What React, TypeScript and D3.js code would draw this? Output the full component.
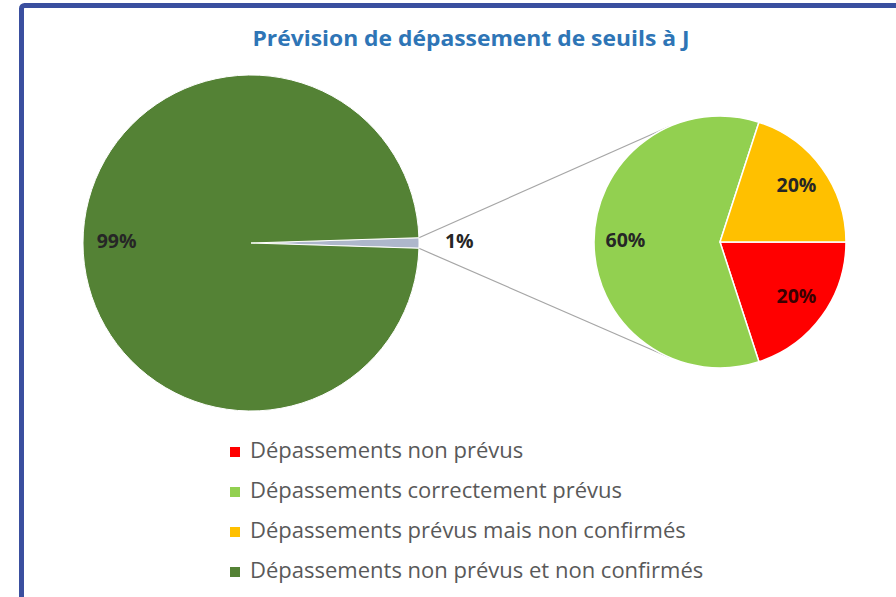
import React from "react";
import * as d3 from "d3";

const title = "Prévision de dépassement de seuils à J";
const categories = [
  "Dépassements non prévus",
  "Dépassements correctement prévus",
  "Dépassements prévus mais non confirmés",
  "Dépassements non prévus et non confirmés",
];
const categoryColors = ["#ff0000", "#92d050", "#ffc000", "#548235"];
// main pie: [grouped "other" slice, main slice]
const mainValues = [1, 99];
const mainLabels = ["1%", "99%"];
// secondary pie (breakdown of the 1%): red, light green, yellow
const secondaryValues = [20, 60, 20];
const secondaryLabels = ["20%", "60%", "20%"];

const W = 896;
const H = 597;
const FONT = "'Open Sans', Lato, sans-serif";

export default function App() {
  const mc = { x: 251, y: 243 };
  const mr = 168;
  const sc = { x: 720, y: 242 };
  const sr = 126;

  const mainTotal = d3.sum(mainValues);
  const half = (mainValues[0] / mainTotal) * Math.PI;
  const mainPie = d3
    .pie<number>()
    .sort(null)
    .value((d) => d)
    .startAngle(Math.PI / 2 - half)
    .endAngle(Math.PI / 2 - half + 2 * Math.PI);
  const mainArcs = mainPie(mainValues);
  const mainArc = d3.arc<d3.PieArcDatum<number>>().innerRadius(0).outerRadius(mr);

  const secPie = d3
    .pie<number>()
    .sort(null)
    .value((d) => d)
    .startAngle(Math.PI / 2)
    .endAngle(Math.PI / 2 + 2 * Math.PI);
  const secArcs = secPie(secondaryValues);
  const secArc = d3.arc<d3.PieArcDatum<number>>().innerRadius(0).outerRadius(sr);
  const secLabelArc = d3.arc<d3.PieArcDatum<number>>().innerRadius(sr * 0.75).outerRadius(sr * 0.75);

  const polar = (c: { x: number; y: number }, r: number, a: number) => ({
    x: c.x + r * Math.sin(a),
    y: c.y - r * Math.cos(a),
  });

  const other = mainArcs[0];
  const p1 = polar(mc, mr, other.startAngle);
  const p2 = polar(mc, mr, other.endAngle);
  const tangent = (p: { x: number; y: number }, sign: number) => {
    const dx = p.x - sc.x;
    const dy = p.y - sc.y;
    const d = Math.hypot(dx, dy);
    const base = Math.atan2(dy, dx);
    const t = Math.acos(sr / d);
    const ang = base + sign * t;
    return { x: sc.x + sr * Math.cos(ang), y: sc.y + sr * Math.sin(ang) };
  };
  const t1 = tangent(p1, 1);
  const t2 = tangent(p2, -1);

  const mainLabelPos = [
    polar(mc, mr * 1.24, (other.startAngle + other.endAngle) / 2),
    polar(mc, mr * 0.8, (mainArcs[1].startAngle + mainArcs[1].endAngle) / 2),
  ];

  const secColors = [categoryColors[0], categoryColors[1], categoryColors[2]];
  const legendY = d3.scaleLinear().domain([0, categories.length - 1]).range([452, 572]);

  return (
    <svg
      width={W}
      height={H}
      style={{ position: "absolute", left: 0, top: 0, fontFamily: FONT }}
    >
      <defs>
        <radialGradient id="otherGrad" gradientUnits="userSpaceOnUse" cx={mc.x} cy={mc.y} r={mr}>
          <stop offset="0" stopColor="#eef5e6" />
          <stop offset="0.6" stopColor="#d3dbe0" />
          <stop offset="1" stopColor="#aeb7cb" />
        </radialGradient>
      </defs>
      <rect x={0} y={0} width={W} height={H} fill="#ffffff" />
      <rect
        x={21.5}
        y={5.5}
        width={W + 20}
        height={H + 20}
        rx={3}
        fill="#ffffff"
        stroke="#3a4f9f"
        strokeWidth={5}
      />
      <text
        x={471}
        y={40}
        textAnchor="middle"
        dominantBaseline="middle"
        fontSize={21}
        fontWeight="bold"
        fill="#2e75b6"
        textLength={437}
        lengthAdjust="spacingAndGlyphs"
      >
        {title}
      </text>

      {/* connector lines */}
      <line x1={p1.x} y1={p1.y} x2={t1.x} y2={t1.y} stroke="#a6a6a6" strokeWidth={1.2} />
      <line x1={p2.x} y1={p2.y} x2={t2.x} y2={t2.y} stroke="#a6a6a6" strokeWidth={1.2} />

      {/* main pie */}
      <g transform={`translate(${mc.x},${mc.y})`}>
        {mainArcs.map((a, i) => (
          <path
            key={i}
            d={mainArc(a) || ""}
            fill={i === 0 ? "url(#otherGrad)" : categoryColors[3]}
            stroke="#ffffff"
            strokeWidth={1}
          />
        ))}
      </g>
      {mainLabels.map((l, i) => (
        <text
          key={i}
          x={mainLabelPos[i].x}
          y={mainLabelPos[i].y}
          textAnchor="middle"
          dominantBaseline="middle"
          fontSize={19.5}
          fontWeight="bold"
          fill="#262626"
        >
          {l}
        </text>
      ))}

      {/* secondary pie */}
      <g transform={`translate(${sc.x},${sc.y})`}>
        {secArcs.map((a, i) => (
          <path key={i} d={secArc(a) || ""} fill={secColors[i]} stroke="#ffffff" strokeWidth={1.5} />
        ))}
        {secArcs.map((a, i) => {
          const [x, y] = secLabelArc.centroid(a);
          return (
            <text
              key={i}
              x={x}
              y={y}
              textAnchor="middle"
              dominantBaseline="middle"
              fontSize={19.5}
              fontWeight="bold"
              fill={i === 0 ? "#3a0000" : "#262626"}
            >
              {secondaryLabels[i]}
            </text>
          );
        })}
      </g>

      {/* legend */}
      {categories.map((c, i) => (
        <g key={c}>
          <rect x={230} y={legendY(i) - 5} width={10} height={10} fill={categoryColors[i]} />
          <text
            x={250}
            y={legendY(i)}
            dominantBaseline="middle"
            fontSize={22}
            fill="#595959"
          >
            {c}
          </text>
        </g>
      ))}
    </svg>
  );
}
